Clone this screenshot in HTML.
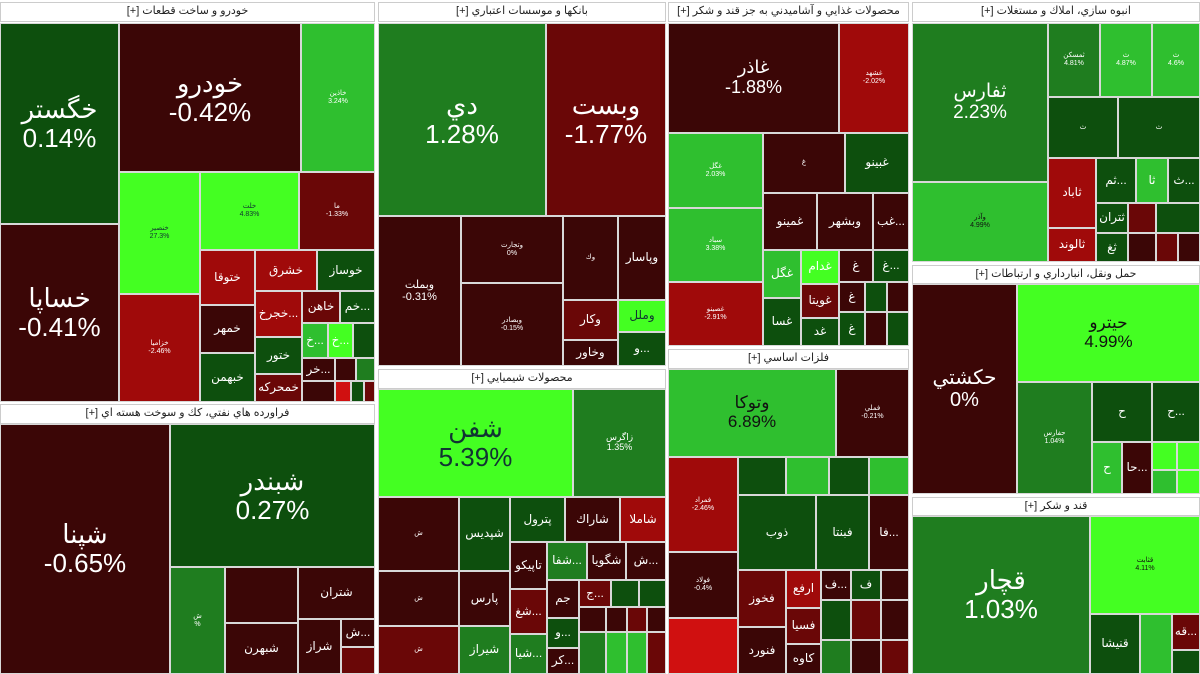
<!DOCTYPE html>
<html><head><meta charset="utf-8">
<style>
body{margin:0;width:1200px;height:674px;background:#fff;position:relative;overflow:hidden;font-family:"Liberation Sans","DejaVu Sans",sans-serif}
div{position:absolute;box-sizing:border-box}
.t{display:flex;flex-direction:column;align-items:center;justify-content:center;color:#fff;text-align:center;overflow:hidden;line-height:1.1;font-size:12px;border:1px solid #d8d8d8}
.h{background:#fff;color:#222;font-size:11px;text-align:center;line-height:17px;border:1px solid #ccc;direction:rtl}
.b{font-size:26px}
.s{font-size:7px}
.M{background:#3b0606}.R{background:#a00a0a}.D{background:#6a0707}
.G{background:#0d4f0d}.F{background:#1f7d1f}.B{background:#2fbf2f}.L{background:#44ff22;color:#133}
</style></head><body>
<!-- section 1 -->
<div class="h" style="left:0px;top:2px;width:375px;height:20px">خودرو و ساخت قطعات [+]</div>
<div class="t G b" style="left:0px;top:23px;width:119px;height:201px">خگستر<br>0.14%</div>
<div class="t M b" style="left:0px;top:224px;width:119px;height:178px">خساپا<br>-0.41%</div>
<div class="t M b" style="left:119px;top:23px;width:182px;height:149px">خودرو<br>-0.42%</div>
<div class="t B s" style="left:301px;top:23px;width:74px;height:149px">خاذين<br>3.24%</div>
<div class="t L s" style="left:119px;top:172px;width:81px;height:122px">خنصير<br>27.3%</div>
<div class="t L s" style="left:200px;top:172px;width:99px;height:78px">خلت<br>4.83%</div>
<div class="t D s" style="left:299px;top:172px;width:76px;height:78px">ما<br>-1.33%</div>
<div class="t R s" style="left:119px;top:294px;width:81px;height:108px">خزاميا<br>-2.46%</div>
<div class="t R" style="left:200px;top:250px;width:55px;height:55px">ختوقا</div>
<div class="t R" style="left:255px;top:250px;width:62px;height:41px">خشرق</div>
<div class="t G" style="left:317px;top:250px;width:58px;height:41px">خوساز</div>
<div class="t M" style="left:200px;top:305px;width:55px;height:48px">خمهر</div>
<div class="t G" style="left:200px;top:353px;width:55px;height:49px">خبهمن</div>
<div class="t R" style="left:255px;top:291px;width:47px;height:46px">خجرخ...</div>
<div class="t G" style="left:255px;top:337px;width:47px;height:37px">ختور</div>
<div class="t D" style="left:255px;top:374px;width:47px;height:28px">خمحركه</div>
<div class="t D" style="left:302px;top:291px;width:38px;height:32px">خاهن</div>
<div class="t G" style="left:340px;top:291px;width:35px;height:32px">خم...</div>
<div class="t B" style="left:302px;top:323px;width:26px;height:35px">خ...</div>
<div class="t L" style="left:328px;top:323px;width:25px;height:35px;color:#fff">خ...</div>
<div class="t G" style="left:353px;top:323px;width:22px;height:35px"></div>
<div class="t M" style="left:302px;top:358px;width:33px;height:23px">خر...</div>
<div class="t M" style="left:335px;top:358px;width:21px;height:23px"></div>
<div class="t F" style="left:356px;top:358px;width:19px;height:23px"></div>
<div class="t M" style="left:302px;top:381px;width:33px;height:21px"></div>
<div class="t R" style="left:335px;top:381px;width:16px;height:21px;background:#d01010"></div>
<div class="t G" style="left:351px;top:381px;width:13px;height:21px"></div>
<div class="t D" style="left:364px;top:381px;width:11px;height:21px"></div>
<!-- section 5 -->
<div class="h" style="left:0px;top:404px;width:375px;height:20px">فراورده هاي نفتي، كك و سوخت هسته اي [+]</div>
<div class="t M b" style="left:0px;top:424px;width:170px;height:250px">شپنا<br>-0.65%</div>
<div class="t G b" style="left:170px;top:424px;width:205px;height:143px">شبندر<br>0.27%</div>
<div class="t F s" style="left:170px;top:567px;width:55px;height:107px">ش<br>%</div>
<div class="t M" style="left:225px;top:567px;width:73px;height:56px"></div>
<div class="t M" style="left:225px;top:623px;width:73px;height:51px">شبهرن</div>
<div class="t M" style="left:298px;top:567px;width:77px;height:52px">شتران</div>
<div class="t M" style="left:298px;top:619px;width:43px;height:55px">شراز</div>
<div class="t M" style="left:341px;top:619px;width:34px;height:28px">ش...</div>
<div class="t D" style="left:341px;top:647px;width:34px;height:27px"></div>
<!-- section 2 -->
<div class="h" style="left:378px;top:2px;width:288px;height:20px">بانکها و موسسات اعتباري [+]</div>
<div class="t F b" style="left:378px;top:23px;width:168px;height:193px">دي<br>1.28%</div>
<div class="t D b" style="left:546px;top:23px;width:120px;height:193px">وبست<br>-1.77%</div>
<div class="t M s" style="left:378px;top:216px;width:83px;height:150px;font-size:11px">وبملت<br>-0.31%</div>
<div class="t M s" style="left:461px;top:216px;width:102px;height:67px">وتجارت<br>0%</div>
<div class="t M s" style="left:461px;top:283px;width:102px;height:83px">وبصادر<br>-0.15%</div>
<div class="t M s" style="left:563px;top:216px;width:55px;height:84px">وك</div>
<div class="t M" style="left:618px;top:216px;width:48px;height:84px">وپاسار</div>
<div class="t D" style="left:563px;top:300px;width:55px;height:40px">وكار</div>
<div class="t M" style="left:563px;top:340px;width:55px;height:26px">وخاور</div>
<div class="t L" style="left:618px;top:300px;width:48px;height:32px">وملل</div>
<div class="t G" style="left:618px;top:332px;width:48px;height:34px">و...</div>
<!-- section 6 -->
<div class="h" style="left:378px;top:369px;width:288px;height:20px">محصولات شيميايي [+]</div>
<div class="t L b" style="left:378px;top:389px;width:195px;height:108px">شفن<br>5.39%</div>
<div class="t F" style="left:573px;top:389px;width:93px;height:108px;font-size:9px">زاگرس<br>1.35%</div>
<div class="t M s" style="left:378px;top:497px;width:81px;height:74px">ش</div>
<div class="t M s" style="left:378px;top:571px;width:81px;height:55px">ش</div>
<div class="t D s" style="left:378px;top:626px;width:81px;height:48px">ش</div>
<div class="t G" style="left:459px;top:497px;width:51px;height:74px">شپديس</div>
<div class="t M" style="left:459px;top:571px;width:51px;height:55px">پارس</div>
<div class="t F" style="left:459px;top:626px;width:51px;height:48px">شيراز</div>
<div class="t G" style="left:510px;top:497px;width:55px;height:45px">پترول</div>
<div class="t M" style="left:565px;top:497px;width:55px;height:45px">شاراك</div>
<div class="t R" style="left:620px;top:497px;width:46px;height:45px">شاملا</div>
<div class="t M" style="left:510px;top:542px;width:37px;height:47px">تاپيكو</div>
<div class="t F" style="left:547px;top:542px;width:40px;height:38px">شفا...</div>
<div class="t M" style="left:587px;top:542px;width:39px;height:38px">شگويا</div>
<div class="t M" style="left:626px;top:542px;width:40px;height:38px">ش...</div>
<div class="t D" style="left:510px;top:589px;width:37px;height:45px">شغ...</div>
<div class="t F" style="left:510px;top:634px;width:37px;height:40px">شيا...</div>
<div class="t M" style="left:547px;top:580px;width:32px;height:38px">جم</div>
<div class="t G" style="left:547px;top:618px;width:32px;height:30px">و...</div>
<div class="t M" style="left:547px;top:648px;width:32px;height:26px">كر...</div>
<div class="t D" style="left:579px;top:580px;width:32px;height:27px">ج...</div>
<div class="t G" style="left:611px;top:580px;width:28px;height:27px"></div>
<div class="t G" style="left:639px;top:580px;width:27px;height:27px"></div>
<div class="t M" style="left:579px;top:607px;width:27px;height:25px"></div>
<div class="t M" style="left:606px;top:607px;width:21px;height:25px"></div>
<div class="t D" style="left:627px;top:607px;width:20px;height:25px"></div>
<div class="t M" style="left:647px;top:607px;width:19px;height:25px"></div>
<div class="t F" style="left:579px;top:632px;width:27px;height:42px"></div>
<div class="t B" style="left:606px;top:632px;width:21px;height:42px"></div>
<div class="t B" style="left:627px;top:632px;width:20px;height:42px"></div>
<div class="t D" style="left:647px;top:632px;width:19px;height:42px"></div>
<!-- section 3 -->
<div class="h" style="left:668px;top:2px;width:241px;height:20px">محصولات غذايي و آشاميدني به جز قند و شكر [+]</div>
<div class="t M" style="left:668px;top:23px;width:171px;height:110px;font-size:18px">غاذر<br>-1.88%</div>
<div class="t R s" style="left:839px;top:23px;width:70px;height:110px">غشهد<br>-2.02%</div>
<div class="t B s" style="left:668px;top:133px;width:95px;height:75px">غگل<br>2.03%</div>
<div class="t B s" style="left:668px;top:208px;width:95px;height:74px">سباد<br>3.38%</div>
<div class="t R s" style="left:668px;top:282px;width:95px;height:64px">غصينو<br>-2.91%</div>
<div class="t M s" style="left:763px;top:133px;width:82px;height:60px">غ</div>
<div class="t G" style="left:845px;top:133px;width:64px;height:60px">غبينو</div>
<div class="t M" style="left:763px;top:193px;width:54px;height:57px">غمينو</div>
<div class="t M" style="left:817px;top:193px;width:56px;height:57px">وبشهر</div>
<div class="t M" style="left:873px;top:193px;width:36px;height:57px">غب...</div>
<div class="t B" style="left:763px;top:250px;width:38px;height:48px">غگل</div>
<div class="t L" style="left:801px;top:250px;width:38px;height:34px;color:#fff">غدام</div>
<div class="t G" style="left:763px;top:298px;width:38px;height:48px">غسا</div>
<div class="t D" style="left:801px;top:284px;width:38px;height:34px">غويتا</div>
<div class="t G" style="left:801px;top:318px;width:38px;height:28px">غد</div>
<div class="t M" style="left:839px;top:250px;width:34px;height:32px">غ</div>
<div class="t G" style="left:873px;top:250px;width:36px;height:32px">غ...</div>
<div class="t M" style="left:839px;top:282px;width:26px;height:30px">غ</div>
<div class="t G" style="left:865px;top:282px;width:22px;height:30px"></div>
<div class="t M" style="left:887px;top:282px;width:22px;height:30px"></div>
<div class="t G" style="left:839px;top:312px;width:26px;height:34px">غ</div>
<div class="t M" style="left:865px;top:312px;width:22px;height:34px"></div>
<div class="t G" style="left:887px;top:312px;width:22px;height:34px"></div>
<!-- section 7 -->
<div class="h" style="left:668px;top:349px;width:241px;height:20px">فلزات اساسي [+]</div>
<div class="t B" style="left:668px;top:369px;width:168px;height:88px;font-size:17px;color:#111">وتوكا<br>6.89%</div>
<div class="t M s" style="left:836px;top:369px;width:73px;height:88px">فملي<br>-0.21%</div>
<div class="t R s" style="left:668px;top:457px;width:70px;height:95px">فمراد<br>-2.46%</div>
<div class="t M s" style="left:668px;top:552px;width:70px;height:66px">فولاد<br>-0.4%</div>
<div class="t R" style="left:668px;top:618px;width:70px;height:56px;background:#d01010"></div>
<div class="t G" style="left:738px;top:457px;width:48px;height:38px"></div>
<div class="t B" style="left:786px;top:457px;width:43px;height:38px"></div>
<div class="t G" style="left:829px;top:457px;width:40px;height:38px"></div>
<div class="t B" style="left:869px;top:457px;width:40px;height:38px"></div>
<div class="t G" style="left:738px;top:495px;width:78px;height:75px">ذوب</div>
<div class="t G" style="left:816px;top:495px;width:53px;height:75px">فبنتا</div>
<div class="t M" style="left:869px;top:495px;width:40px;height:75px">فا...</div>
<div class="t D" style="left:738px;top:570px;width:48px;height:57px">فخوز</div>
<div class="t M" style="left:738px;top:627px;width:48px;height:47px">فنورد</div>
<div class="t R" style="left:786px;top:570px;width:35px;height:38px">ارفع</div>
<div class="t D" style="left:786px;top:608px;width:35px;height:36px">فسيا</div>
<div class="t M" style="left:786px;top:644px;width:35px;height:30px">كاوه</div>
<div class="t M" style="left:821px;top:570px;width:30px;height:30px">ف...</div>
<div class="t G" style="left:851px;top:570px;width:30px;height:30px">ف</div>
<div class="t M" style="left:881px;top:570px;width:28px;height:30px"></div>
<div class="t G" style="left:821px;top:600px;width:30px;height:40px"></div>
<div class="t D" style="left:851px;top:600px;width:30px;height:40px"></div>
<div class="t M" style="left:881px;top:600px;width:28px;height:40px"></div>
<div class="t F" style="left:821px;top:640px;width:30px;height:34px"></div>
<div class="t M" style="left:851px;top:640px;width:30px;height:34px"></div>
<div class="t D" style="left:881px;top:640px;width:28px;height:34px"></div>
<!-- section 4 -->
<div class="h" style="left:912px;top:2px;width:288px;height:20px">انبوه سازي، املاك و مستغلات [+]</div>
<div class="t F" style="left:912px;top:23px;width:136px;height:159px;font-size:19px">ثفارس<br>2.23%</div>
<div class="t B s" style="left:912px;top:182px;width:136px;height:80px;color:#111">وآذر<br>4.99%</div>
<div class="t F s" style="left:1048px;top:23px;width:52px;height:74px">ثمسكن<br>4.81%</div>
<div class="t B s" style="left:1100px;top:23px;width:52px;height:74px">ث<br>4.87%</div>
<div class="t B s" style="left:1152px;top:23px;width:48px;height:74px">ث<br>4.6%</div>
<div class="t G s" style="left:1048px;top:97px;width:70px;height:61px">ث</div>
<div class="t G s" style="left:1118px;top:97px;width:82px;height:61px">ث</div>
<div class="t R" style="left:1048px;top:158px;width:48px;height:70px">ثاباد</div>
<div class="t R" style="left:1048px;top:228px;width:48px;height:34px">ثالوند</div>
<div class="t G" style="left:1096px;top:158px;width:40px;height:45px">ثم...</div>
<div class="t B" style="left:1136px;top:158px;width:32px;height:45px">ثا</div>
<div class="t G" style="left:1168px;top:158px;width:32px;height:45px">ث...</div>
<div class="t G" style="left:1096px;top:203px;width:32px;height:30px">ثتران</div>
<div class="t G" style="left:1096px;top:233px;width:32px;height:29px">ثغ</div>
<div class="t D" style="left:1128px;top:203px;width:28px;height:30px"></div>
<div class="t G" style="left:1156px;top:203px;width:44px;height:30px"></div>
<div class="t M" style="left:1128px;top:233px;width:28px;height:29px"></div>
<div class="t D" style="left:1156px;top:233px;width:22px;height:29px"></div>
<div class="t M" style="left:1178px;top:233px;width:22px;height:29px"></div>
<!-- section 8 -->
<div class="h" style="left:912px;top:265px;width:288px;height:19px">حمل ونقل، انبارداري و ارتباطات [+]</div>
<div class="t M" style="left:912px;top:284px;width:105px;height:210px;font-size:20px">حكشتي<br>0%</div>
<div class="t L" style="left:1017px;top:284px;width:183px;height:98px;font-size:17px;color:#111">حيترو<br>4.99%</div>
<div class="t F s" style="left:1017px;top:382px;width:75px;height:112px">حفارس<br>1.04%</div>
<div class="t G" style="left:1092px;top:382px;width:60px;height:60px">ح</div>
<div class="t G" style="left:1152px;top:382px;width:48px;height:60px">ح...</div>
<div class="t B" style="left:1092px;top:442px;width:30px;height:52px">ح</div>
<div class="t M" style="left:1122px;top:442px;width:30px;height:52px">حا...</div>
<div class="t L" style="left:1152px;top:442px;width:25px;height:28px"></div>
<div class="t L" style="left:1177px;top:442px;width:23px;height:28px"></div>
<div class="t B" style="left:1152px;top:470px;width:25px;height:24px"></div>
<div class="t L" style="left:1177px;top:470px;width:23px;height:24px"></div>
<!-- section 9 -->
<div class="h" style="left:912px;top:497px;width:288px;height:19px">قند و شكر [+]</div>
<div class="t F b" style="left:912px;top:516px;width:178px;height:158px">قچار<br>1.03%</div>
<div class="t L s" style="left:1090px;top:516px;width:110px;height:98px;color:#111">قثابت<br>4.11%</div>
<div class="t G" style="left:1090px;top:614px;width:50px;height:60px">قنيشا</div>
<div class="t B" style="left:1140px;top:614px;width:32px;height:60px"></div>
<div class="t D" style="left:1172px;top:614px;width:28px;height:36px">قه...</div>
<div class="t G" style="left:1172px;top:650px;width:28px;height:24px"></div>
</body></html>
